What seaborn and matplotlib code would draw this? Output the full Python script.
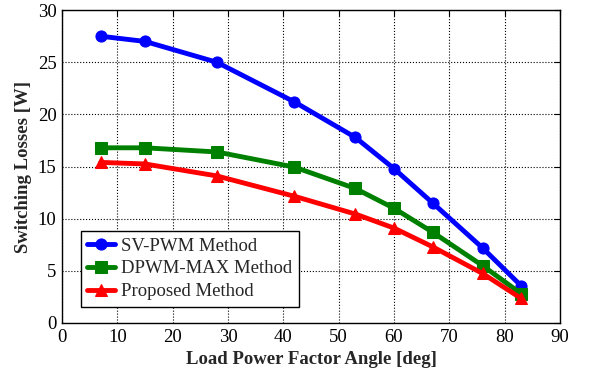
import matplotlib
matplotlib.use("Agg")
import matplotlib.pyplot as plt
import seaborn as sns
import pandas as pd

angle = [7, 15, 28, 42, 53, 60, 67, 76, 83]
sv_pwm = [27.5, 27.0, 25.0, 21.2, 17.8, 14.8, 11.5, 7.2, 3.55]
dpwm_max = [16.8, 16.8, 16.4, 14.95, 12.9, 11.0, 8.7, 5.5, 2.8]
proposed = [15.4, 15.25, 14.1, 12.15, 10.45, 9.1, 7.3, 4.75, 2.35]

labels = ["SV-PWM Method", "DPWM-MAX Method", "Proposed Method"]
colors = ["#0000FF", "#008000", "#FF0000"]
markers = ["o", "s", "^"]

sns.set_style("white")
plt.rcParams['font.family'] = ['Liberation Serif', 'DejaVu Serif']

fig = plt.figure(figsize=(5.94, 3.76), dpi=100)
ax = fig.add_axes([0.1044, 0.141, 0.8384, 0.832])

for vals, lab, c, m in zip([sv_pwm, dpwm_max, proposed], labels, colors, markers):
    df = pd.DataFrame({"x": angle, "y": vals})
    sns.lineplot(data=df, x="x", y="y", ax=ax, color=c, marker=m, markersize=8,
                 markeredgecolor=c, linewidth=3.5, label=lab)

ax.set_xlim(0, 90)
ax.set_ylim(0, 30)
ax.set_xticks(range(0, 91, 10))
ax.set_yticks(range(0, 31, 5))
ax.grid(True, color="black", linestyle=":", linewidth=0.8)
for s in ax.spines.values():
    s.set_color("black")
    s.set_linewidth(1.0)
ax.tick_params(direction="in", length=4, width=0.8, top=True, right=True,
               labelsize=13.5, colors="black", pad=4)
ax.set_xlabel("Load Power Factor Angle [deg]", fontsize=13.5, fontweight="bold")
ax.set_ylabel("Switching Losses [W]", fontsize=13.5, fontweight="bold")

leg = ax.legend(loc="lower left", bbox_to_anchor=(0.0375, 0.052), fontsize=13.5,
                frameon=True, fancybox=False, edgecolor="black", framealpha=1,
                borderpad=0.35, labelspacing=0.3, handlelength=1.5,
                handletextpad=0.3, borderaxespad=0)
leg.get_frame().set_linewidth(1.0)

fig.savefig("out.png", dpi=100)
